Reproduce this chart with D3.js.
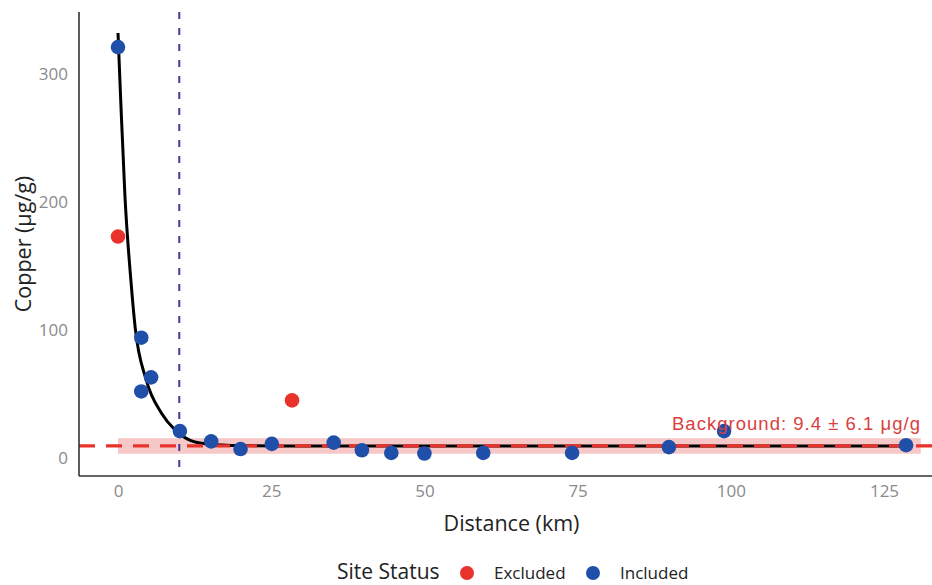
<!DOCTYPE html>
<html>
<head>
<meta charset="utf-8">
<script src="https://cdn.jsdelivr.net/npm/d3@7"></script>
<style>
  html, body { margin: 0; padding: 0; background: #fff; }
  svg { display: block; }
</style>
</head>
<body>
<svg id="chart" width="932" height="585"></svg>
<script>
// ---- Data ----
const includedDistance = [0, 3.8, 3.8, 5.4, 10.1, 15.2, 20.0, 25.1, 35.2, 39.8, 44.6, 50.0, 59.6, 74.1, 89.9, 98.9, 128.6];
const includedCopper   = [321, 94, 52, 63, 21, 13, 7, 11, 12, 6, 4, 3.5, 4, 4, 8.5, 21, 10];
const excludedDistance = [0, 28.4];
const excludedCopper   = [173, 45];
// Fitted decay curve
const fitDistance = [0, 0.44, 1.14, 2.1, 2.8, 4.6, 7.1, 9.3, 11.7, 14.5, 20, 30, 128.6];
const fitCopper   = [332, 280, 204, 139, 102, 61, 35, 22, 14, 11, 9.7, 9.4, 9.4];
const backgroundMean = 9.4;
const backgroundSD = 6.1;
const backgroundBandDistance = [0, 131];
const thresholdDistance = 10;
const xTicks = [0, 25, 50, 75, 100, 125];
const yTicks = [0, 100, 200, 300];
const legendLabels = ["Excluded", "Included"];

const COL_RED = "#e8322b";
const COL_BLUE = "#1f4fa8";

const svg = d3.select("#chart");
const x = d3.scaleLinear().domain([0, 125]).range([118, 884]);
const y = d3.scaleLinear().domain([0, 300]).range([458, 74]);
const panel = { left: 79, right: 944, top: 12, bottom: 476 };

svg.append("defs").append("clipPath").attr("id", "clip")
  .append("rect").attr("x", panel.left).attr("y", panel.top)
  .attr("width", panel.right - panel.left).attr("height", panel.bottom - panel.top);

const g = svg.append("g").attr("clip-path", "url(#clip)");

// background band
g.append("rect")
  .attr("x", x(backgroundBandDistance[0]))
  .attr("width", x(backgroundBandDistance[1]) - x(backgroundBandDistance[0]))
  .attr("y", y(backgroundMean + backgroundSD))
  .attr("height", y(backgroundMean - backgroundSD) - y(backgroundMean + backgroundSD))
  .attr("fill", "#ef9a9a").attr("opacity", 0.55);

// threshold vertical line
g.append("line")
  .attr("x1", x(thresholdDistance)).attr("x2", x(thresholdDistance))
  .attr("y1", panel.top).attr("y2", panel.bottom)
  .attr("stroke", "#3b3b9e").attr("stroke-width", 2)
  .attr("stroke-dasharray", "7,9");

// fit curve
const fitData = fitDistance.map((d, i) => [d, fitCopper[i]]);
g.append("path")
  .datum(fitData)
  .attr("d", d3.line().x(d => x(d[0])).y(d => y(d[1])).curve(d3.curveMonotoneX))
  .attr("fill", "none").attr("stroke", "#000").attr("stroke-width", 3);

// background dashed line
g.append("line")
  .attr("x1", panel.left).attr("x2", panel.right)
  .attr("y1", y(backgroundMean)).attr("y2", y(backgroundMean))
  .attr("stroke", COL_RED).attr("stroke-width", 3.2)
  .attr("stroke-dasharray", "16,11");

// points
const excluded = excludedDistance.map((d, i) => [d, excludedCopper[i]]);
const included = includedDistance.map((d, i) => [d, includedCopper[i]]);
g.selectAll("circle.exc").data(excluded).enter().append("circle")
  .attr("class", "exc").attr("cx", d => x(d[0])).attr("cy", d => y(d[1]))
  .attr("r", 7.3).attr("fill", COL_RED);
g.selectAll("circle.inc").data(included).enter().append("circle")
  .attr("class", "inc").attr("cx", d => x(d[0])).attr("cy", d => y(d[1]))
  .attr("r", 7.3).attr("fill", COL_BLUE);

// background label
svg.append("text")
  .attr("x", 920).attr("y", 430)
  .attr("text-anchor", "end")
  .attr("font-family", "Liberation Sans, Arial, sans-serif")
  .attr("font-size", 18.5)
  .attr("textLength", 248).attr("lengthAdjust", "spacing")
  .attr("fill", "#d9403f")
  .text(`Background: ${backgroundMean} ± ${backgroundSD} μg/g`);

// axes
const xAxis = d3.axisBottom(x).tickValues(xTicks).tickSize(0).tickPadding(9);
const yAxis = d3.axisLeft(y).tickValues(yTicks).tickSize(0).tickPadding(11);

const gx = svg.append("g").attr("transform", `translate(0,${panel.bottom})`).call(xAxis);
gx.select(".domain").remove();
const gy = svg.append("g").attr("transform", `translate(${panel.left},0)`).call(yAxis);
gy.select(".domain").remove();
[gx, gy].forEach(a => a.selectAll("text")
  .attr("font-family", "Open Sans, sans-serif")
  .attr("font-size", 17).attr("fill", "#8a8a8a"));

svg.append("line").attr("x1", panel.left).attr("x2", 932)
  .attr("y1", panel.bottom).attr("y2", panel.bottom)
  .attr("stroke", "#333").attr("stroke-width", 1.6);
svg.append("line").attr("x1", panel.left).attr("x2", panel.left)
  .attr("y1", panel.top).attr("y2", panel.bottom)
  .attr("stroke", "#333").attr("stroke-width", 1.6);

// axis titles
svg.append("text")
  .attr("x", (panel.left + panel.right) / 2).attr("y", 531)
  .attr("text-anchor", "middle")
  .attr("font-family", "Open Sans, sans-serif").attr("font-size", 21.5).attr("fill", "#222")
  .text("Distance (km)");
svg.append("text")
  .attr("transform", `translate(31,${(panel.top + panel.bottom) / 2}) rotate(-90)`)
  .attr("text-anchor", "middle")
  .attr("font-family", "Open Sans, sans-serif").attr("font-size", 21.5).attr("fill", "#222")
  .text("Copper (μg/g)");

// legend
const lg = svg.append("g");
lg.append("text").attr("x", 337).attr("y", 579)
  .attr("font-family", "Open Sans, sans-serif").attr("font-size", 21).attr("fill", "#222")
  .text("Site Status");
const legendColors = [COL_RED, COL_BLUE];
const legendX = [467, 593];
legendLabels.forEach((lab, i) => {
  lg.append("circle").attr("cx", legendX[i]).attr("cy", 573).attr("r", 7).attr("fill", legendColors[i]);
  lg.append("text").attr("x", legendX[i] + 27).attr("y", 579)
    .attr("font-family", "Open Sans, sans-serif").attr("font-size", 17).attr("fill", "#222")
    .text(lab);
});
</script>
</body>
</html>
